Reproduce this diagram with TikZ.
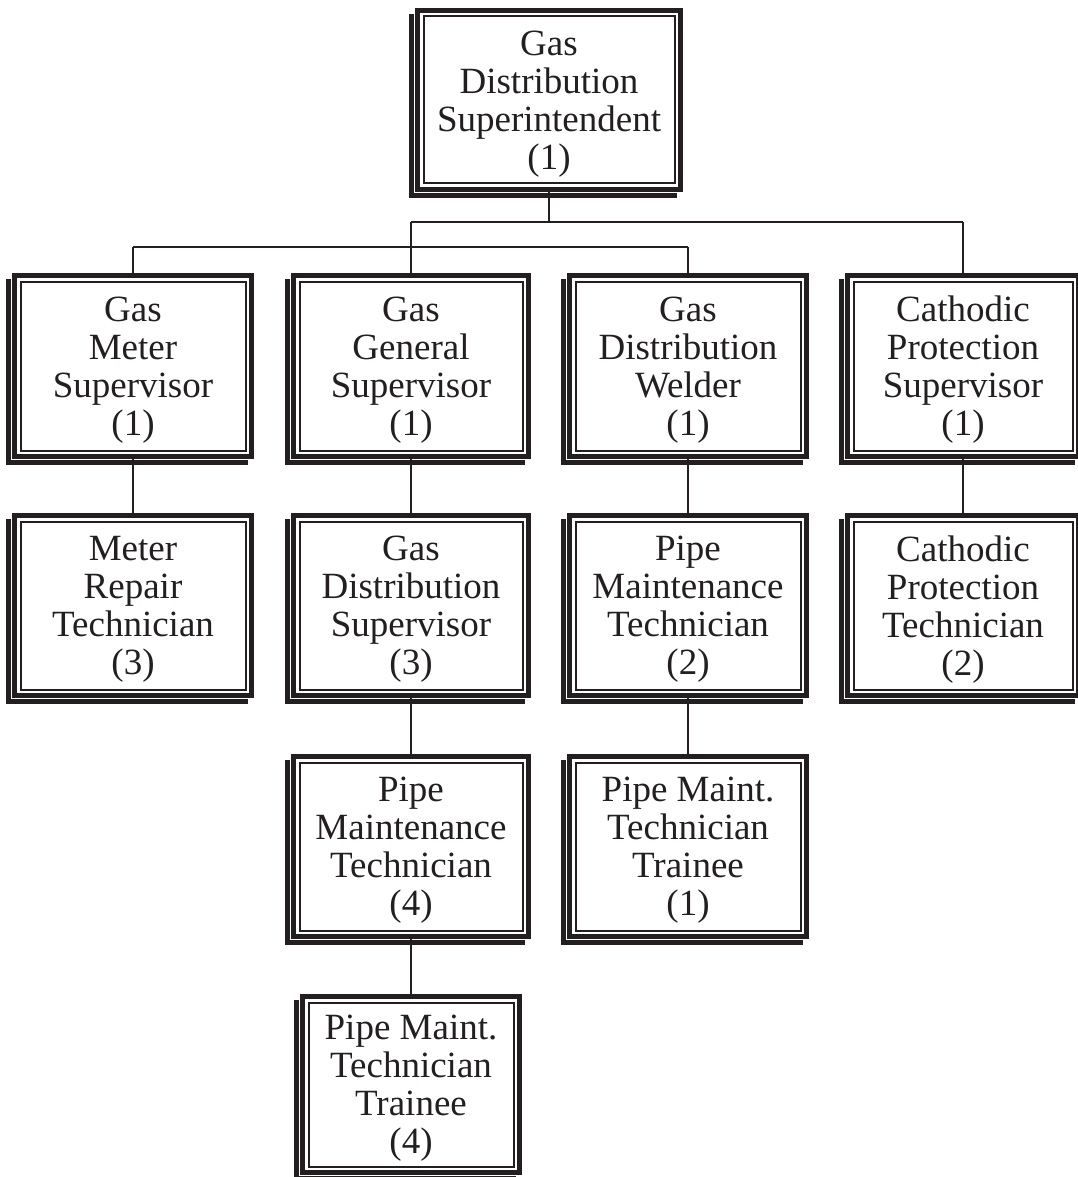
\documentclass[tikz,border=0pt]{standalone}
\usepackage{fontspec}
\setmainfont{Liberation Serif}
\usetikzlibrary{calc}

\definecolor{ink}{HTML}{231F20}

\tikzset{
  orgframe/.style={rectangle, draw=ink, line width=5pt, fill=white,
    inner sep=0pt, preaction={draw=white, line width=7pt}},
  orgtext/.style={inner sep=0pt, align=center, text=ink,
    font=\fontsize{37}{38}\selectfont},
  innerline/.style={draw=ink, line width=2pt},
  shadowfill/.style={fill=ink},
  link/.style={draw=ink, line width=1.8pt}
}

% #1 name, #2 centre x, #3 centre y, #4 outer width, #5 outer height, #6 label
\newcommand\orgbox[6]{%
  \fill[shadowfill] ({#2-#4/2-6},{#3-#5/2+6}) rectangle ({#2+#4/2-6},{#3+#5/2+6});
  \node[orgframe, minimum width={#4pt-5pt}, minimum height={#5pt-5pt}] (#1) at (#2,#3) {};
  \draw[innerline] ([shift={(8.5,8.5)}]#1.north west) rectangle ([shift={(-8.5,-8.5)}]#1.south east);
  \node[orgtext] (#1-label) at (#2,#3+4) {#6};
}

\begin{document}
\begin{tikzpicture}[x=1pt, y=-1pt]
\useasboundingbox (0,0) rectangle (1078,1177);

% superintendent
\orgbox{sup}{549}{100}{268}{184}{Gas\\Distribution\\Superintendent\\(1)}

% second level
\orgbox{meter}{133}{366}{242}{186}{Gas\\Meter\\Supervisor\\(1)}
\orgbox{general}{411}{366}{240}{186}{Gas\\General\\Supervisor\\(1)}
\orgbox{welder}{688}{366}{242}{186}{Gas\\Distribution\\Welder\\(1)}
\orgbox{cathsup}{963}{366}{236}{186}{Cathodic\\Protection\\Supervisor\\(1)}

% third level
\orgbox{repair}{133}{605.5}{242}{185}{Meter\\Repair\\Technician\\(3)}
\orgbox{distsup}{411}{605.5}{240}{185}{Gas\\Distribution\\Supervisor\\(3)}
\orgbox{pipetechB}{688}{605.5}{242}{185}{Pipe\\Maintenance\\Technician\\(2)}
\orgbox{cathtech}{963}{605.5}{236}{185}{Cathodic\\Protection\\Technician\\(2)}

% fourth level
\orgbox{pipetechA}{411}{846.5}{240}{185}{Pipe\\Maintenance\\Technician\\(4)}
\orgbox{traineeB}{688}{846.5}{242}{185}{Pipe Maint.\\Technician\\Trainee\\(1)}

% fifth level
\orgbox{traineeA}{411}{1084.5}{222}{181}{Pipe Maint.\\Technician\\Trainee\\(4)}

% connectors
\coordinate (busA) at (549,222);
\coordinate (busB) at (549,247);
\draw[link] (sup.south) -- (busA);
\draw[link] (general.north |- busA) -- (cathsup.north |- busA);
\draw[link] (general.north |- busA) -- (general.north);
\draw[link] (cathsup.north |- busA) -- (cathsup.north);
\draw[link] (meter.north |- busB) -- (welder.north |- busB);
\draw[link] (meter.north |- busB) -- (meter.north);
\draw[link] (welder.north |- busB) -- (welder.north);

\draw[link] (meter.south) -- (repair.north);
\draw[link] (general.south) -- (distsup.north);
\draw[link] (welder.south) -- (pipetechB.north);
\draw[link] (cathsup.south) -- (cathtech.north);
\draw[link] (distsup.south) -- (pipetechA.north);
\draw[link] (pipetechB.south) -- (traineeB.north);
\draw[link] (pipetechA.south) -- (traineeA.north);
\end{tikzpicture}
\end{document}
